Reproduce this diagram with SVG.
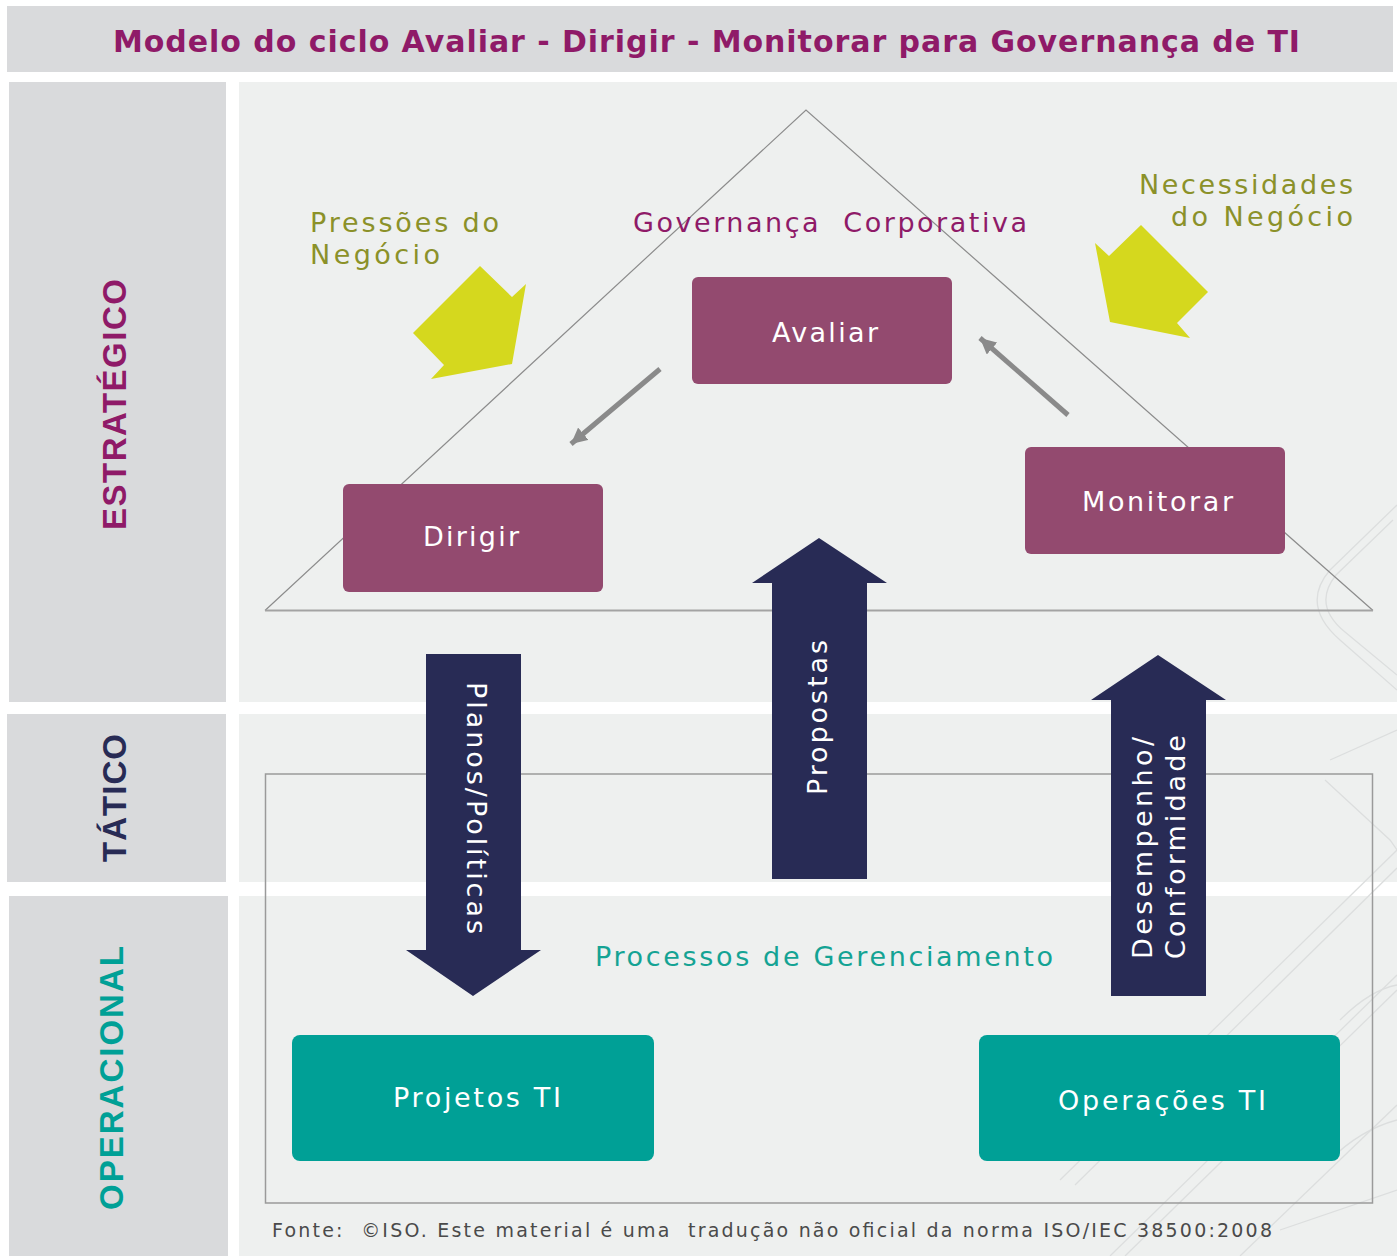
<svg xmlns="http://www.w3.org/2000/svg" width="1397" height="1256" viewBox="0 0 1397 1256">
<defs>
<style>
.lbl{font-family:"DejaVu Sans","Liberation Sans",Arial,sans-serif;}
.title{font-family:"DejaVu Sans","Liberation Sans",Arial,sans-serif;font-weight:bold;font-size:30px;fill:#8f1a68;}
.side{font-family:"Liberation Sans",Arial,sans-serif;font-weight:bold;font-size:33px;}
.olive{font-family:"DejaVu Sans","Liberation Sans",Arial,sans-serif;font-size:27px;fill:#8b9129;}
.wht{font-family:"DejaVu Sans","Liberation Sans",Arial,sans-serif;font-size:27px;fill:#ffffff;}
.panelL{fill:#d9dadc;}
.panelR{fill:#eef0ef;}
.gov{fill:#934a6f;}
.ops{fill:#00a096;}
.navy{fill:#282b55;}
.yel{fill:#d5d81e;}
.tex{fill:none;stroke:#dcdede;stroke-width:1.3;}
</style>
<marker id="gh" markerUnits="userSpaceOnUse" markerWidth="18" markerHeight="16" refX="16" refY="8" orient="auto">
<path d="M0,0 L16,8 L0,16 z" fill="#8a8a8a"/>
</marker>
</defs>
<rect width="1397" height="1256" fill="#ffffff"/>
<g id="title-bar">
<rect x="7" y="6" width="1386" height="66" fill="#d9dadc"/>
<text class="title" x="113" y="52" textLength="1187" lengthAdjust="spacing">Modelo do ciclo Avaliar - Dirigir - Monitorar para Governança de TI</text>
</g>
<g id="bands">
<rect class="panelL" x="9" y="82" width="217" height="620"/>
<rect class="panelL" x="7" y="714" width="219" height="168"/>
<rect class="panelL" x="9" y="896" width="219" height="360"/>
<rect class="panelR" x="239" y="82" width="1158" height="620"/>
<rect class="panelR" x="239" y="714" width="1158" height="168"/>
<rect class="panelR" x="239" y="896" width="1158" height="360"/>
</g>
<g id="texture">
<path class="tex" d="M1397,505 L1330,570 Q1300,605 1340,640 L1397,690"/>
<path class="tex" d="M1393,520 L1336,575 Q1312,605 1345,632 L1397,675"/>
<path class="tex" d="M1110,1256 L1397,975"/>
<path class="tex" d="M1125,1256 L1397,990"/>
<path class="tex" d="M1060,1180 L1397,850"/>
<path class="tex" d="M1075,1185 L1397,868"/>
<path class="tex" d="M1240,1256 L1397,1105"/>
<path class="tex" d="M1330,760 L1397,730"/>
<path class="tex" d="M1325,780 L1390,840 L1397,850"/>
<path class="tex" d="M1340,1020 Q1370,990 1397,985"/>
<path class="tex" d="M1330,1160 Q1360,1130 1397,1120"/>
<path class="tex" d="M1280,1230 L1397,1190"/>
</g>
<g id="triangle">
<path d="M265,610.5 L806,110 L1373,610.5" fill="none" stroke="#8c8c8c" stroke-width="1.2"/>
<line x1="265" y1="610.5" x2="1373" y2="610.5" stroke="#a3a3a3" stroke-width="2"/>
</g>
<g id="processos-frame">
<rect x="265.5" y="774" width="1107" height="429" fill="none" stroke="#9a9a9a" stroke-width="1.5"/>
<text class="lbl" x="595" y="966" font-size="27" fill="#14a394" textLength="458" lengthAdjust="spacing">Processos de Gerenciamento</text>
</g>
<g id="side-labels">
<text class="side" fill="#8f1a68" transform="translate(126,530) rotate(-90)" textLength="251" lengthAdjust="spacing">ESTRATÉGICO</text>
<text class="side" fill="#282b55" transform="translate(126,862) rotate(-90)" textLength="128" lengthAdjust="spacing">TÁTICO</text>
<text class="side" fill="#00a096" transform="translate(123,1210) rotate(-90)" textLength="264" lengthAdjust="spacing">OPERACIONAL</text>
</g>
<g id="governanca-label">
<text class="lbl" x="633" y="232" font-size="27" fill="#8f1a68" style="white-space:pre" textLength="394" lengthAdjust="spacing">Governança  Corporativa</text>
</g>
<g id="pressoes">
<polygon class="yel" points="480,266 512,297 526,284 512,364 431,379 444,365 413,333"/>
<text class="olive" x="310" y="232" textLength="189" lengthAdjust="spacing">Pressões do</text>
<text class="olive" x="310" y="264" textLength="130" lengthAdjust="spacing">Negócio</text>
</g>
<g id="necessidades">
<polygon class="yel" points="1141,225 1208,292 1177,323 1190,338 1110,322 1095,243 1109,256"/>
<text class="olive" x="1139" y="194" textLength="214" lengthAdjust="spacing">Necessidades</text>
<text class="olive" x="1171" y="226" textLength="182" lengthAdjust="spacing">do Negócio</text>
</g>
<g id="avaliar">
<rect class="gov" x="692" y="277" width="260" height="107" rx="6"/>
<text class="wht" x="772" y="342" textLength="106" lengthAdjust="spacing">Avaliar</text>
</g>
<g id="dirigir">
<rect class="gov" x="343" y="484" width="260" height="108" rx="6"/>
<text class="wht" x="423" y="546" textLength="96" lengthAdjust="spacing">Dirigir</text>
</g>
<g id="monitorar">
<rect class="gov" x="1025" y="447" width="260" height="107" rx="6"/>
<text class="wht" x="1082" y="511" textLength="151" lengthAdjust="spacing">Monitorar</text>
</g>
<g id="projetos">
<rect class="ops" x="292" y="1035" width="362" height="126" rx="8"/>
<text class="wht" x="393" y="1107" textLength="168" lengthAdjust="spacing">Projetos TI</text>
</g>
<g id="operacoes">
<rect class="ops" x="979" y="1035" width="361" height="126" rx="8"/>
<text class="wht" x="1058" y="1110" textLength="208" lengthAdjust="spacing">Operações TI</text>
</g>
<g id="connectors">
<line x1="660" y1="369" x2="571" y2="444" stroke="#8a8a8a" stroke-width="5" marker-end="url(#gh)"/>
<line x1="1068" y1="415" x2="980" y2="338" stroke="#8a8a8a" stroke-width="5" marker-end="url(#gh)"/>
<g id="planos-arrow">
<polygon class="navy" points="426,654 521,654 521,950 541,950 473,996 406,950 426,950"/>
<text class="wht" transform="translate(467,682) rotate(90)" textLength="252" lengthAdjust="spacing">Planos/Políticas</text>
</g>
<g id="propostas-arrow">
<polygon class="navy" points="772,879 867,879 867,583 887,583 819,538 752,583 772,583"/>
<text class="wht" transform="translate(827,795) rotate(-90)" textLength="155" lengthAdjust="spacing">Propostas</text>
</g>
<g id="desempenho-arrow">
<polygon class="navy" points="1111,996 1206,996 1206,700 1226,700 1158,655 1091,700 1111,700"/>
<text class="wht" transform="translate(1152,959) rotate(-90)" textLength="222" lengthAdjust="spacing">Desempenho/</text>
<text class="wht" transform="translate(1185,959) rotate(-90)" textLength="224" lengthAdjust="spacing">Conformidade</text>
</g>
</g>
<g id="footer">
<text class="lbl" x="272" y="1237" font-size="19" fill="#4a4a4a" style="white-space:pre" textLength="1000" lengthAdjust="spacing">Fonte:  ©ISO. Este material é uma  tradução não oficial da norma ISO/IEC 38500:2008</text>
</g>
</svg>
